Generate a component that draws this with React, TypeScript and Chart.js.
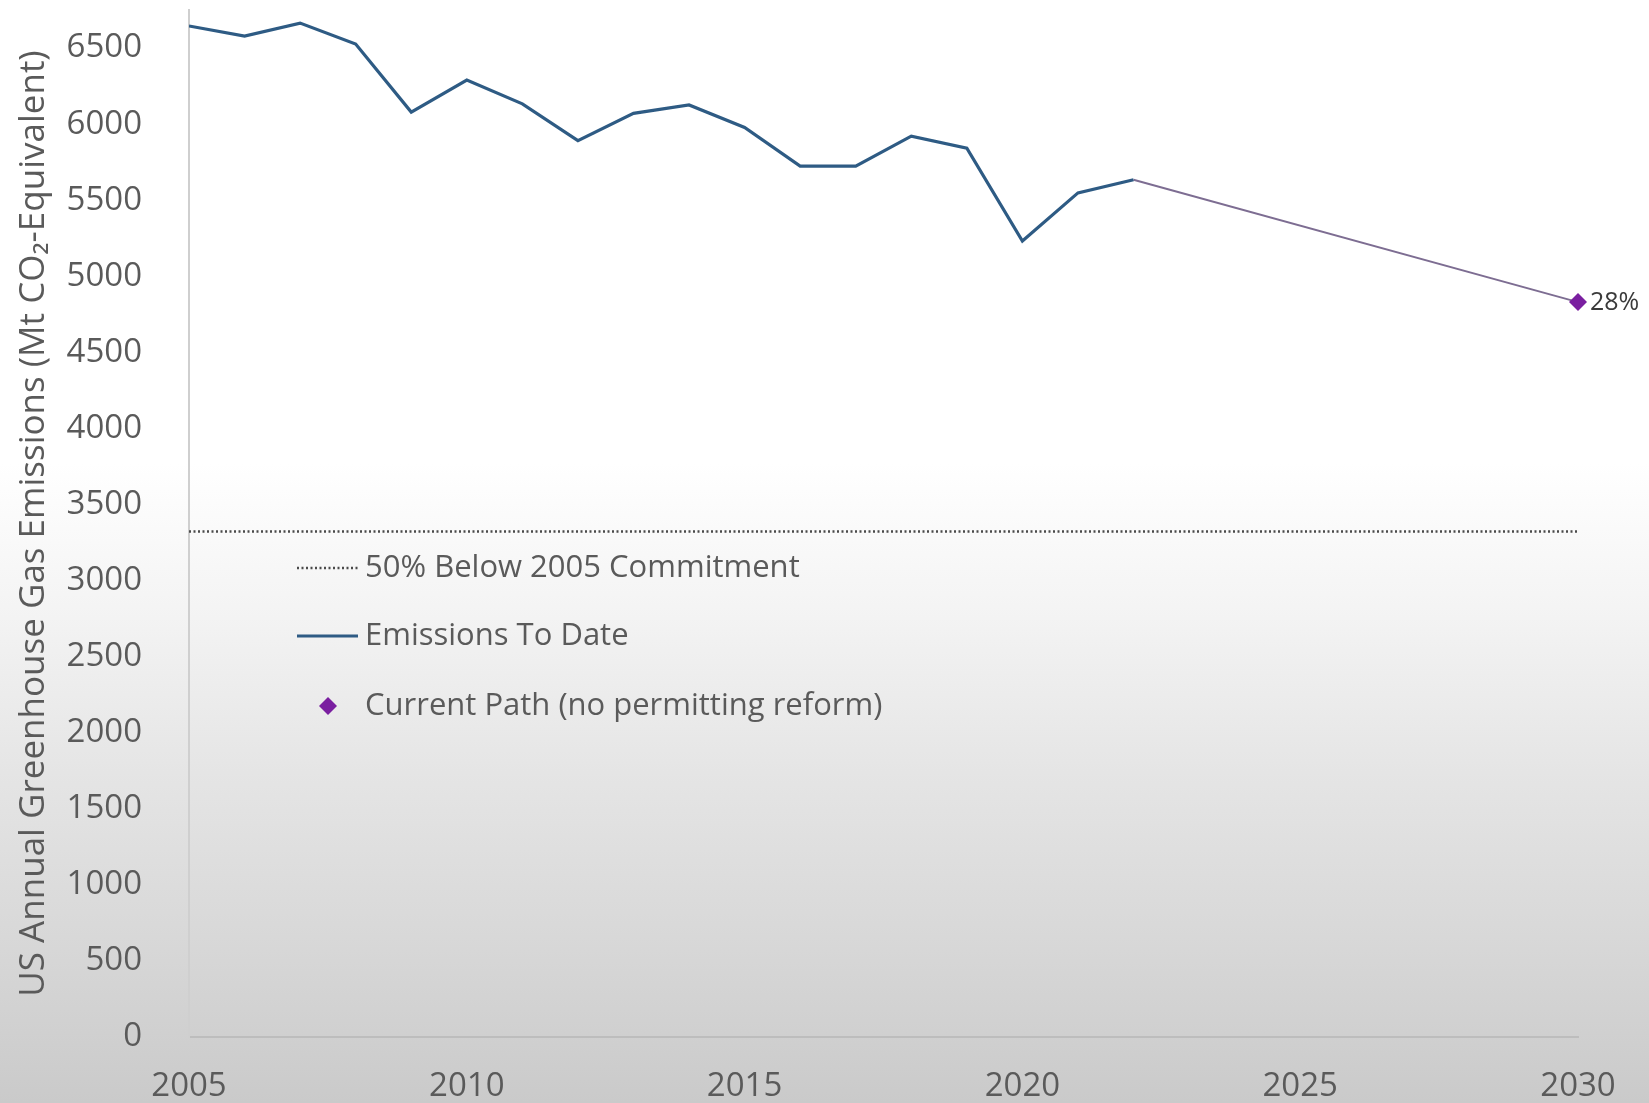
import React, { useEffect, useRef } from "react";
import { Chart, registerables } from "chart.js";

Chart.register(...registerables);

// ---- Data ----
const years = [2005, 2006, 2007, 2008, 2009, 2010, 2011, 2012, 2013, 2014, 2015, 2016, 2017, 2018, 2019, 2020, 2021, 2022];
const emissions = [6645, 6579, 6664, 6526, 6079, 6289, 6133, 5891, 6071, 6126, 5978, 5724, 5724, 5921, 5842, 5232, 5548, 5634];
const projectionYears = [2022, 2030];
const projectionValues = [5634, 4830];
const commitmentYears = [2005, 2030];
const commitmentValues = [3322, 3322];
const projectionLabel = "28%";
const xTickValues = [2005, 2010, 2015, 2020, 2025, 2030];
const yTickValues = [0, 500, 1000, 1500, 2000, 2500, 3000, 3500, 4000, 4500, 5000, 5500, 6000, 6500];
const legendLabels = ["50% Below 2005 Commitment", "Emissions To Date", "Current Path (no permitting reform)"];
const yTitle = "US Annual Greenhouse Gas Emissions (Mt CO\u2082-Equivalent)";

const FONT = '"Open Sans", "Noto Sans", sans-serif';
const BLUE = "#2e5b84";
const PURPLE = "#7a1fa0";
const PROJ_LINE = "#7d6d92";
const DOT = "#4a4a4a";
const TEXT = "#5a5a5a";

const overlayPlugin = {
  id: "overlay",
  afterDatasetsDraw(chart: any) {
    const ctx = chart.ctx;
    const xs = chart.scales.x;
    const ys = chart.scales.y;
    ctx.save();
    // 28% label
    const px = xs.getPixelForValue(projectionYears[1]);
    const py = ys.getPixelForValue(projectionValues[1]);
    ctx.fillStyle = "#3a3a3a";
    ctx.font = `25px ${FONT}`;
    ctx.textAlign = "left";
    ctx.textBaseline = "middle";
    ctx.fillText(projectionLabel, px + 12, py + 1);

    // legend
    const sx0 = 297, sx1 = 358, tx = 365;
    const rows = [568, 636, 706];
    ctx.font = `31px ${FONT}`;
    ctx.fillStyle = TEXT;
    // row 1 dotted
    ctx.strokeStyle = DOT;
    ctx.lineWidth = 2.5;
    ctx.setLineDash([2, 2.5]);
    ctx.beginPath();
    ctx.moveTo(sx0, rows[0]);
    ctx.lineTo(sx1, rows[0]);
    ctx.stroke();
    ctx.setLineDash([]);
    ctx.fillText(legendLabels[0], tx, rows[0]);
    // row 2 solid
    ctx.strokeStyle = BLUE;
    ctx.lineWidth = 3;
    ctx.beginPath();
    ctx.moveTo(sx0, rows[1]);
    ctx.lineTo(sx1, rows[1]);
    ctx.stroke();
    ctx.fillText(legendLabels[1], tx, rows[1]);
    // row 3 diamond
    const dx = 328, dy = rows[2], r = 9;
    ctx.fillStyle = PURPLE;
    ctx.beginPath();
    ctx.moveTo(dx, dy - r);
    ctx.lineTo(dx + r, dy);
    ctx.lineTo(dx, dy + r);
    ctx.lineTo(dx - r, dy);
    ctx.closePath();
    ctx.fill();
    ctx.fillStyle = TEXT;
    ctx.fillText(legendLabels[2], tx, rows[2]);
    ctx.restore();
  },
};

export default function App() {
  const canvasRef = useRef<HTMLCanvasElement | null>(null);

  useEffect(() => {
    if (!canvasRef.current) return;
    const chart = new Chart(canvasRef.current, {
      type: "line",
      data: {
        datasets: [
          {
            label: legendLabels[0],
            data: commitmentYears.map((x, i) => ({ x, y: commitmentValues[i] })),
            borderColor: DOT,
            borderWidth: 2.5,
            borderDash: [2, 2.5],
            pointRadius: 0,
            fill: false,
          },
          {
            label: legendLabels[1],
            data: years.map((x, i) => ({ x, y: emissions[i] })),
            borderColor: BLUE,
            borderWidth: 3.2,
            pointRadius: 0,
            tension: 0,
            fill: false,
          },
          {
            label: legendLabels[2],
            data: projectionYears.map((x, i) => ({ x, y: projectionValues[i] })),
            borderColor: PROJ_LINE,
            borderWidth: 2,
            pointStyle: "rectRot",
            pointRadius: (c: any) => (c.dataIndex === 1 ? 9 : 0),
            pointBackgroundColor: PURPLE,
            pointBorderColor: PURPLE,
            pointBorderWidth: 0,
            fill: false,
            clip: false,
          } as any,
        ],
      },
      options: {
        animation: false,
        responsive: true,
        maintainAspectRatio: false,
        layout: { padding: { top: 10, right: 71, left: 0, bottom: 0 } },
        plugins: {
          legend: { display: false },
          tooltip: { enabled: false },
        },
        scales: {
          x: {
            type: "linear",
            min: 2005,
            max: 2030,
            grid: { display: false },
            border: { display: true, color: "#bdbdbd", width: 2 },
            afterBuildTicks: (s: any) => {
              s.ticks = xTickValues.map((v) => ({ value: v }));
            },
            afterFit: (s: any) => {
              s.height = 66;
            },
            ticks: {
              color: TEXT,
              font: { family: FONT, size: 33 },
              padding: 22,
              maxRotation: 0,
              autoSkip: false,
              callback: (v: any) => String(v),
            },
          },
          y: {
            type: "linear",
            min: 0,
            max: 6750,
            grid: { display: false },
            border: { display: true, color: "#cfcfcf", width: 2 },
            afterBuildTicks: (s: any) => {
              s.ticks = yTickValues.map((v) => ({ value: v }));
            },
            afterFit: (s: any) => {
              s.width = 189;
              s.paddingTop = 0;
              s.paddingBottom = 0;
            },
            ticks: {
              color: TEXT,
              font: { family: FONT, size: 33 },
              padding: 39,
              autoSkip: false,
              callback: (v: any) => String(v),
            },
            title: {
              display: true,
              text: yTitle,
              color: TEXT,
              font: { family: FONT, size: 35 },
              padding: { top: 13, bottom: 0 },
            },
          },
        },
      },
      plugins: [overlayPlugin],
    });
    return () => chart.destroy();
  }, []);

  return (
    <div
      style={{
        position: "fixed",
        left: 0,
        top: 0,
        width: 1649,
        height: 1103,
        background:
          "linear-gradient(to bottom, #ffffff 0%, #ffffff 42%, #f4f4f4 55%, #e5e5e5 70%, #d8d8d8 85%, #cacaca 100%)",
      }}
    >
      <canvas ref={canvasRef} />
    </div>
  );
}
